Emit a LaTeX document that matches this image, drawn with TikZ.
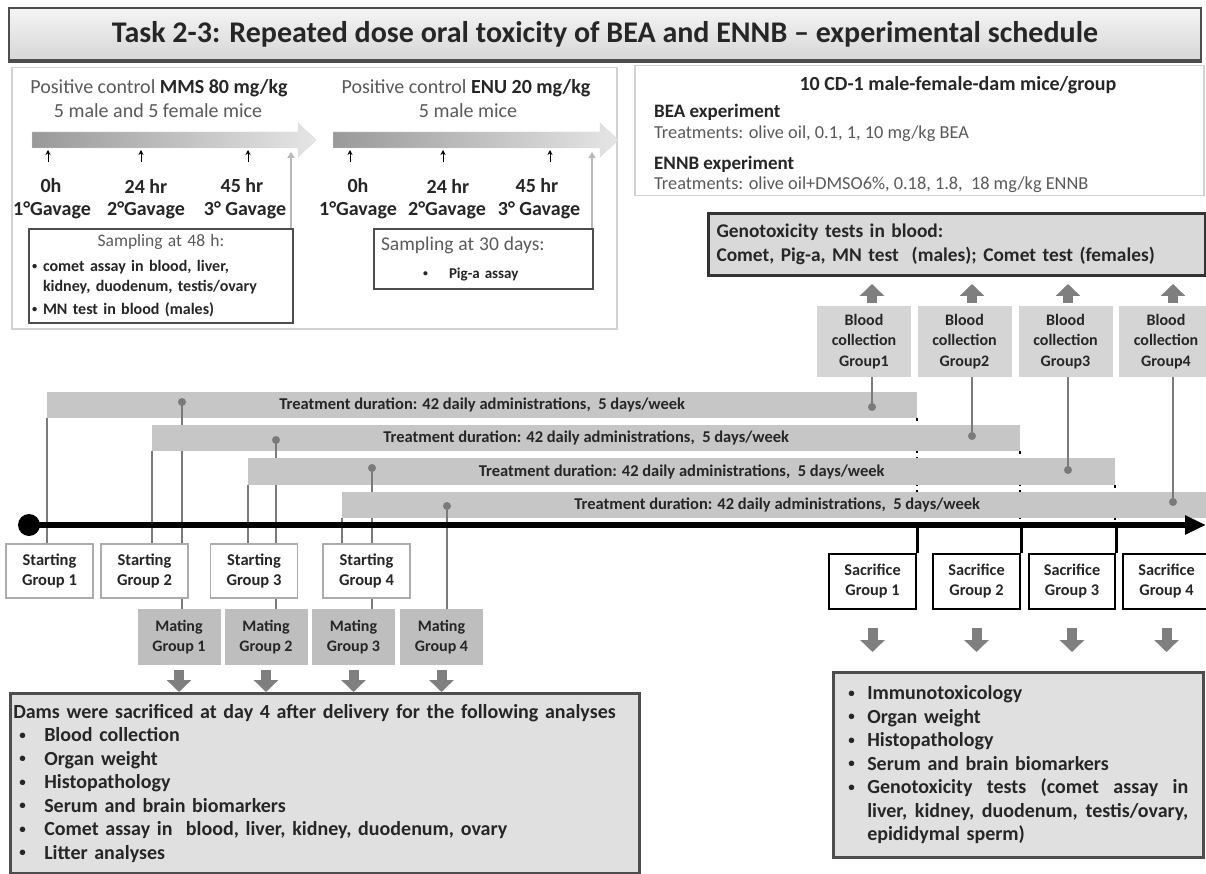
\documentclass[tikz,border=0pt]{standalone}
\usepackage{fontspec}
\usepackage{graphicx}
\setmainfont{Carlito}
\usetikzlibrary{arrows.meta,calc}

\definecolor{txt}{HTML}{262626}
\definecolor{ltxt}{HTML}{5A5A5A}
\definecolor{barfill}{HTML}{C6C6C6}
\definecolor{matefill}{HTML}{BEBEBE}
\definecolor{bloodfill}{HTML}{D5D5D5}
\definecolor{arrgray}{HTML}{7F7F7F}
\definecolor{lgray}{HTML}{7A7A7A}
\definecolor{boxfill}{HTML}{E0E0E0}
\definecolor{frame}{HTML}{4D4D4D}

\newcommand\fs[2]{\fontsize{#1}{#2}\selectfont}
\newcommand\smbul{\raisebox{0.12em}{\scalebox{0.65}{\textbullet}}}
\newcommand\myitem[2]{\makebox[#1][l]{\smbul}#2}

\tikzset{
  bar/.style={fill=barfill, inner sep=0pt, minimum height=26pt, anchor=north west,
    text=txt, font=\bfseries\fs{16.5}{18}},
  startbox/.style={draw=gray!65, line width=1.2pt, fill=white, minimum width=87pt,
    minimum height=54pt, inner sep=0pt, align=center, text=txt, font=\bfseries\fs{16.5}{19.5}},
  matebox/.style={fill=matefill, minimum width=83pt, minimum height=56pt, inner sep=0pt,
    align=center, text=txt, font=\bfseries\fs{16}{20}},
  sacbox/.style={draw=black, line width=2.5pt, fill=white, minimum width=87pt,
    minimum height=55pt, inner sep=0pt, align=center, text=txt, font=\bfseries\fs{16.3}{20}},
  bloodbox/.style={fill=bloodfill, minimum width=94pt, minimum height=71pt, inner sep=0pt,
    align=center, text=txt, font=\bfseries\fs{16}{20.5}},
  gline/.style={draw=lgray, line width=1.8pt},
  gdot/.style={fill=lgray, circle, inner sep=0pt, minimum size=8pt},
  bigarr/.style={draw=arrgray, line width=10pt, -{Triangle[length=12pt,width=24pt]}},
  blackarr/.style={draw=black, line width=0.9pt, -{Stealth[length=5pt,width=5pt]}},
  samparr/.style={draw=gray!55, line width=1.6pt, -{Triangle[length=6pt,width=7pt]}},
  lbl/.style={inner sep=0pt, text=txt, font=\bfseries\fs{20}{22}},
  plain/.style={inner sep=0pt, text=txt},
  bigbox/.style={draw=frame, line width=2.5pt, fill=boxfill, inner sep=0pt, text=txt,
    align=left, anchor=north west},
  sampbox/.style={draw=frame, line width=2pt, fill=white, inner sep=0pt, text=txt,
    align=left, anchor=north west},
}

\begin{document}
\begin{tikzpicture}[x=1pt,y=-1pt]
\useasboundingbox[fill=white] (0,0) rectangle (1206,874);

% ---------- Title ----------
\node[draw=frame, line width=2pt, top color=gray!8, bottom color=gray!32,
  minimum width=1192pt, minimum height=52pt, inner sep=0pt, anchor=north west,
  text=txt, font=\bfseries\fs{30}{32}] (title) at (8,7)
  {Task 2-3: Repeated dose oral toxicity of BEA and ENNB -- experimental schedule};
\draw[frame, line width=3pt] ([yshift=-1pt]title.south west) -- ([yshift=-1pt]title.south east);

% ---------- Top-left panel ----------
\node[draw=gray!35, line width=1.5pt, minimum width=605pt, minimum height=261pt,
  inner sep=0pt, anchor=north west] (tlpanel) at (11,67) {};

\node[plain, text=ltxt, font=\fs{20}{22}] (pc1) at (159,88)
  {Positive control \textcolor{txt}{\bfseries MMS 80 mg/kg}};
\node[plain, text=ltxt, font=\fs{20}{22}] (mice1) at (158,111) {5 male and 5 female mice};
\node[plain, text=ltxt, font=\fs{20}{22}] (pc2) at (466,88)
  {Positive control \textcolor{txt}{\bfseries ENU 20 mg/kg}};
\node[plain, text=ltxt, font=\fs{20}{22}] (mice2) at (468,111) {5 male mice};

\shade[left color=gray!80, right color=gray!20, draw=gray!30]
  (32,132) -- (298,132) -- (298,123) -- (316,140) -- (298,157) -- (298,148) -- (32,148) -- cycle;
\shade[left color=gray!80, right color=gray!20, draw=gray!30]
  (333,132) -- (600,132) -- (600,123) -- (618,140) -- (600,157) -- (600,148) -- (333,148) -- cycle;
\coordinate (A1bot) at (0,150);

\node[lbl] (h1) at (51,186) {0h};
\node[lbl] (h2) at (146,186) {24 hr};
\node[lbl] (h3) at (242,186) {45 hr};
\node[lbl] (g1) at (52,210) {1°Gavage};
\node[lbl] (g2) at (146,210) {2°Gavage};
\node[lbl] (g3) at (245,210) {3° Gavage};
\node[lbl] (h4) at (358,186) {0h};
\node[lbl] (h5) at (448,186) {24 hr};
\node[lbl] (h6) at (537,186) {45 hr};
\node[lbl] (g4) at (358,210) {1°Gavage};
\node[lbl] (g5) at (447,210) {2°Gavage};
\node[lbl] (g6) at (539,210) {3° Gavage};

\foreach \x/\n in {48/a1,141/a2,248/a3,350/a4,443/a5,550/a6}{
  \coordinate (\n) at (\x,162);
  \draw[blackarr] (\n) -- (\n |- A1bot);
}

\node[sampbox, minimum width=264pt, minimum height=94pt, text width=258pt,
  font=\bfseries\fs{16}{20}] (samp1) at (28,228)
  {\makebox[\linewidth][c]{\mdseries\color{ltxt}\fs{17.5}{20}Sampling at 48 h:}\\[5pt]
   \myitem{11pt}{comet assay in blood, liver,}\\
   \hspace*{11pt}kidney, duodenum, testis/ovary\\[3pt]
   \myitem{11pt}{MN test in blood (males)}};
\node[sampbox, minimum width=219pt, minimum height=60pt, text width=209pt,
  font=\bfseries\fs{15}{20}] (samp2) at (373,228)
  {\hspace*{2pt}{\mdseries\color{ltxt}\fs{19.5}{20}Sampling at 30 days:}\\[8pt]
   \hspace*{44pt}\myitem{26pt}{Pig-a assay}};

\coordinate (s1top) at (291,152);
\coordinate (s2top) at (592,152);
\draw[samparr] (samp1.north -| s1top) -- (s1top);
\draw[samparr] (samp2.north -| s2top) -- (s2top);

% ---------- Top-right panel ----------
\node[draw=gray!35, line width=1.5pt, minimum width=569pt, minimum height=130pt,
  inner sep=0pt, anchor=north west] (trpanel) at (634,65) {};
\node[plain, font=\bfseries\fs{20}{22}] (cd1) at (958,85) {10 CD-1 male-female-dam mice/group};
\node[plain, anchor=west, font=\bfseries\fs{19}{22}] (bea) at (654,112) {BEA experiment};
\node[plain, anchor=west, text=ltxt, font=\fs{18.3}{22}] (beat) at (654,134)
  {Treatments: olive oil, 0.1, 1, 10 mg/kg BEA};
\node[plain, anchor=west, font=\bfseries\fs{19}{22}] (ennb) at (654,164) {ENNB experiment};
\node[plain, anchor=west, text=ltxt, font=\fs{18.3}{22}] (ennbt) at (654,185)
  {Treatments: olive oil+DMSO6\%, 0.18, 1.8,\ \ 18 mg/kg ENNB};

% ---------- Genotoxicity box ----------
\node[draw=black!80, line width=3pt, fill=gray!30, minimum width=497pt, minimum height=62pt,
  text width=481pt, inner sep=0pt, align=left, anchor=north west, text=txt,
  font=\bfseries\fs{19.4}{24}] (geno) at (707,212)
  {Genotoxicity tests in blood:\\Comet, Pig-a, MN test\ \ (males); Comet test (females)};

% ---------- Blood collection boxes ----------
\node[bloodbox] (bb1) at (864,341.5) {Blood\\collection\\Group1};
\node[bloodbox] (bb2) at (964.5,341.5) {Blood\\collection\\Group2};
\node[bloodbox] (bb3) at (1065.5,341.5) {Blood\\collection\\Group3};
\node[bloodbox] (bb4) at (1166,341.5) {Blood\\collection\\Group4};

% ---------- Timeline coordinates ----------
\coordinate (tl0) at (29,525);
\coordinate (tlend) at (1206,525);

% dots on bars
\coordinate (m1) at (182,402);
\coordinate (m2) at (276,440);
\coordinate (m3) at (372,468);
\coordinate (m4) at (447,506);
\coordinate (b1) at (872,407);
\coordinate (b2) at (972,436);
\coordinate (b3) at (1068,470);
\coordinate (b4) at (1173,502);

% ---------- Boxes below timeline ----------
\node[startbox] (st1) at (49.5,571) {Starting\\Group 1};
\node[startbox] (st2) at (144.5,571) {Starting\\Group 2};
\node[startbox] (st3) at (254,571) {Starting\\Group 3};
\node[startbox] (st4) at (366.5,571) {Starting\\Group 4};

\node[matebox] (ma1) at (179,637) {Mating\\Group 1};
\node[matebox] (ma2) at (266,637) {Mating\\Group 2};
\node[matebox] (ma3) at (353.5,637) {Mating\\Group 3};
\node[matebox] (ma4) at (441.5,637) {Mating\\Group 4};

% ---------- Bars, lines ----------
\node[bar, minimum width=870pt] (bar1) at (47,392)
  {Treatment duration: 42 daily administrations,\ \ 5 days/week};
\draw[gline] (bar1.south west) -- (bar1.south west |- st1.north);
\draw[gline] (m1) -- (m1 |- ma1.north);
\draw[black, line width=2pt, dash pattern=on 2.5pt off 4pt] (bar1.south east) -- (bar1.south east |- tl0);

\node[bar, minimum width=868pt] (bar2) at (152,425)
  {Treatment duration: 42 daily administrations,\ \ 5 days/week};
\draw[gline] (bar2.south west) -- (bar2.south west |- st2.north);
\draw[gline] (m2) -- (m2 |- ma2.north);
\draw[black, line width=2pt, dash pattern=on 2.5pt off 4pt] (bar2.south east) -- (bar2.south east |- tl0);

\node[bar, minimum width=867pt, minimum height=27pt] (bar3) at (248,458)
  {Treatment duration: 42 daily administrations,\ \ 5 days/week};
\draw[gline] (bar3.south west) -- (bar3.south west |- st3.north);
\draw[gline] (m3) -- (m3 |- ma3.north);
\draw[black, line width=2pt, dash pattern=on 2.5pt off 4pt] (bar3.south east) -- (bar3.south east |- tl0);

\node[bar, minimum width=870pt] (bar4) at (342,492)
  {Treatment duration: 42 daily administrations,\ \ 5 days/week};
\draw[gline] (bar4.south west) -- (bar4.south west |- st4.north);
\draw[gline] (m4) -- (m4 |- ma4.north);

% blood lines
\draw[gline] (bb1.south -| b1) -- (b1);
\draw[gline] (bb2.south -| b2) -- (b2);
\draw[gline] (bb3.south -| b3) -- (b3);
\draw[gline] (bb4.south -| b4) -- (b4);

\foreach \p in {m1,m2,m3,m4,b1,b2,b3,b4}{ \node[gdot] at (\p) {}; }

% redraw starting boxes over lines
\foreach \n/\t in {st1/1,st2/2,st3/3,st4/4}{
  \node[startbox] at (\n) {Starting\\Group \t};
}

% timeline
\draw[line width=6pt, -{Triangle[length=21pt,width=18pt]}] (tl0) -- (tlend);
\fill (tl0) circle (11pt);

% ---------- Sacrifice boxes ----------
\node[sacbox] (sa1) at (872.5,581.5) {Sacrifice\\Group 1};
\node[sacbox] (sa2) at (976.5,581.5) {Sacrifice\\Group 2};
\node[sacbox, minimum width=86pt] (sa3) at (1072,581.5) {Sacrifice\\Group 3};
\node[sacbox] (sa4) at (1166.5,581.5) {Sacrifice\\Group 4};
\foreach \n in {sa1,sa2,sa3}{
  \draw[line width=2.5pt] (\n.north east) -- (\n.north east |- tl0);
}

% ---------- Up arrows to genotox box ----------
\foreach \b/\p in {bb1/b1,bb2/b2,bb3/b3,bb4/b4}{
  \draw[bigarr, shorten <=3pt, shorten >=7pt] (\b.north -| \p) -- (geno.south -| \p);
}

% ---------- Bottom-left box ----------
\node[bigbox, minimum width=629pt, minimum height=180pt, text width=623pt,
  font=\bfseries\fs{20}{23.5}] (dams) at (9,692)
  {Dams were sacrificed at day 4 after delivery for the following analyses\\
   \hspace*{6pt}\myitem{25pt}{Blood collection}\\
   \hspace*{6pt}\myitem{25pt}{Organ weight}\\
   \hspace*{6pt}\myitem{25pt}{Histopathology}\\
   \hspace*{6pt}\myitem{25pt}{Serum and brain biomarkers}\\
   \hspace*{6pt}\myitem{25pt}{Comet assay in\ \ blood, liver, kidney, duodenum, ovary}\\
   \hspace*{6pt}\myitem{25pt}{Litter analyses}};

\foreach \m in {ma1,ma2,ma3,ma4}{
  \draw[bigarr, shorten <=5pt] (\m.south) -- (\m.south |- dams.north);
}

% ---------- Bottom-right box ----------
\node[bigbox, minimum width=370pt, minimum height=185pt, text width=342pt,
  font=\bfseries\fs{20}{23.5}] (sacres) at (832,671)
  {\hspace*{1pt}\myitem{19pt}{Immunotoxicology}\\
   \hspace*{1pt}\myitem{19pt}{Organ weight}\\
   \hspace*{1pt}\myitem{19pt}{Histopathology}\\
   \hspace*{1pt}\myitem{19pt}{Serum and brain biomarkers}\\
   \hspace*{1pt}\myitem{19pt}{\makebox[321pt][l]{Genotoxicity\hfill tests\hfill (comet\hfill assay\hfill in}}\\
   \hspace*{20pt}\makebox[321pt][l]{liver,\hfill kidney,\hfill duodenum,\hfill testis/ovary,}\\
   \hspace*{20pt}epididymal sperm)};

\foreach \s in {sa1,sa2,sa3,sa4}{
  \draw[bigarr, shorten <=18pt, shorten >=19pt] (\s.south) -- (\s.south |- sacres.north);
}
\end{tikzpicture}
\end{document}
